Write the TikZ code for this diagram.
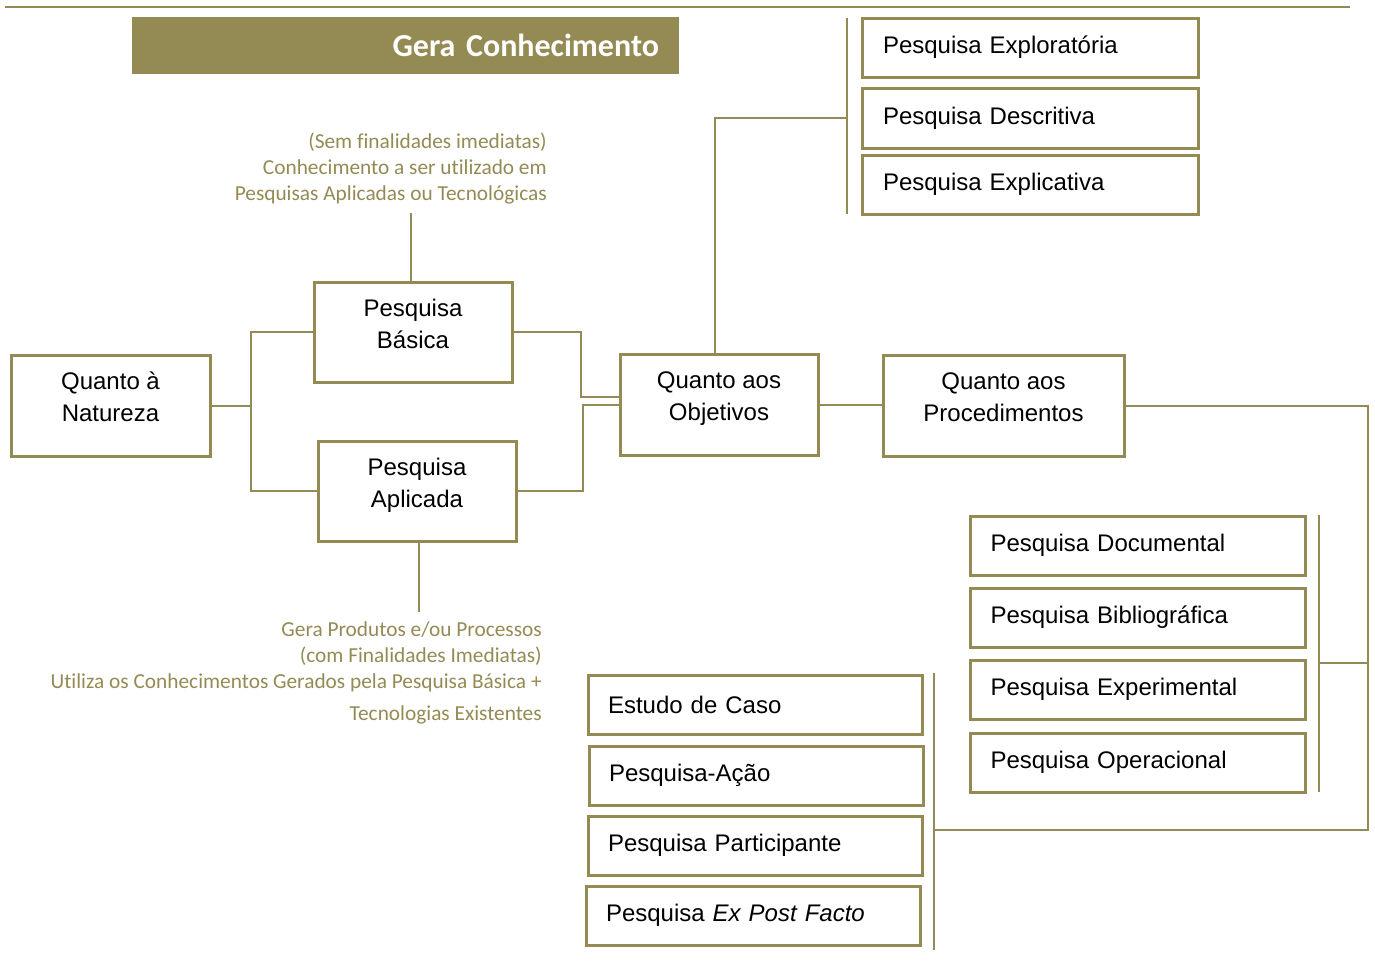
\documentclass[tikz,border=0pt]{standalone}
\usepackage{fontspec}
\setmainfont{Liberation Sans}
\newfontfamily\calib[Ligatures=NoCommon]{Carlito}
\definecolor{olv}{HTML}{948A54}
\newdimen\pxu \pxu=0.75pt
\newcommand{\dn}{\rule[-13pt]{0pt}{0pt}}
\tikzset{
  box/.style={draw=olv, line width=2.25pt, inner sep=0pt, font=\fontsize{18}{24}\selectfont, align=center},
  item/.style={box, minimum width=334\pxu, minimum height=59\pxu, text width=294\pxu, inner xsep=20\pxu, align=left},
  conn/.style={draw=olv, line width=1.5pt},
  note/.style={text=olv, inner sep=0pt, align=right, font=\calib\fontsize{16}{19.5}\selectfont},
}
\begin{document}
\begin{tikzpicture}[x=0.75pt,y=-0.75pt]
\useasboundingbox (0,0) rectangle (1375,965);
% top rule
\coordinate (tl) at (5,7);
\coordinate (tr) at (1350,7);
\draw[conn] (tl) -- (tr);
% title
\node[fill=olv, inner sep=0pt, minimum width=547\pxu, minimum height=57\pxu, text width=507\pxu, align=right, text=white,
  font=\calib\bfseries\fontsize{24}{28}\selectfont] (title) at (405.5,45) {Gera Conhecimento};
% main boxes
\node[box, minimum width=199\pxu, minimum height=101\pxu] (nat) at (110.5,405.5) {Quanto à\\Natureza\dn};
\node[box, minimum width=198\pxu, minimum height=100\pxu] (bas) at (413,332) {Pesquisa\\Básica\dn};
\node[box, minimum width=198\pxu, minimum height=100\pxu] (apl) at (417,491) {Pesquisa\\Aplicada\dn};
\node[box, minimum width=198\pxu, minimum height=101\pxu] (obj) at (719,404.5) {Quanto aos\\Objetivos\dn};
\node[box, minimum width=241\pxu, minimum height=101\pxu] (proc) at (1003.5,405.5) {Quanto aos\\Procedimentos\dn};
% objetivos list
\node[item, minimum width=336\pxu] (exp) at (1030,47.5) {Pesquisa Exploratória};
\node[item, minimum width=336\pxu, minimum height=60\pxu] (des) at (1030,118) {Pesquisa Descritiva};
\node[item, minimum width=336\pxu] (expc) at (1030,184.5) {Pesquisa Explicativa};
% procedimentos right list
\node[item, minimum width=335\pxu] (doc) at (1137.5,545.5) {Pesquisa Documental};
\node[item, minimum width=335\pxu] (bib) at (1137.5,617.5) {Pesquisa Bibliográfica};
\node[item, minimum width=335\pxu] (expm) at (1137.5,689.5) {Pesquisa Experimental};
\node[item, minimum width=335\pxu] (ope) at (1137.5,762.5) {Pesquisa Operacional};
% procedimentos left list
\node[item] (est) at (755,704.5) {Estudo de Caso};
\node[item] (acao) at (756,775.5) {Pesquisa-Ação};
\node[item] (part) at (755,845.5) {Pesquisa Participante};
\node[item] (epf) at (753,915.5) {Pesquisa \textit{Ex Post Facto}};
% notes
\node[note, anchor=east] (topnote) at (547,168.5) {(Sem finalidades imediatas)\\Conhecimento a ser utilizado em\\Pesquisas Aplicadas ou Tecnológicas};
\node[note, anchor=north east] (botnote) at (542,621) {Gera Produtos e/ou Processos\\[0.5pt](com Finalidades Imediatas)\\Utiliza os Conhecimentos Gerados pela Pesquisa Básica +\\[4pt]Tecnologias Existentes};
% bracket coordinates
\coordinate (b1t) at (847,18);
\coordinate (b1b) at (847,214);
\coordinate (b1) at (847,118);
\coordinate (b2t) at (1319,515);
\coordinate (b2b) at (1319,792);
\coordinate (b2) at (1319,663);
\coordinate (b3t) at (934,673);
\coordinate (b3b) at (934,950);
\coordinate (b3) at (934,830);
\coordinate (c2) at (1368,830);
\coordinate (c3) at (1368,663);
\coordinate (j1) at (251,405.5);
% connectors
\draw[conn] (nat.east) -- (j1);
\draw[conn] (bas.west) -| (j1) |- (apl.west);
\draw[conn] (bas.east) -- ++(67,0) |- ([yshift=7.5\pxu]obj.west);
\draw[conn] (apl.east) -- ++(65,0) |- (obj.west);
\draw[conn] ([xshift=-2\pxu]bas.north) -- ++(0,-68);
\draw[conn] ([xshift=2\pxu]apl.south) -- ++(0,69);
\draw[conn] ([xshift=-4\pxu]obj.north) |- (b1);
\draw[conn] (obj.east) -- (obj.east -| proc.west);
\draw[conn] (proc.east) -| (c2) -- (b3);
\draw[conn] (b2) -- (c3);
\draw[conn] (b1t) -- (b1b);
\draw[conn] (b2t) -- (b2b);
\draw[conn] (b3t) -- (b3b);
\end{tikzpicture}
\end{document}
